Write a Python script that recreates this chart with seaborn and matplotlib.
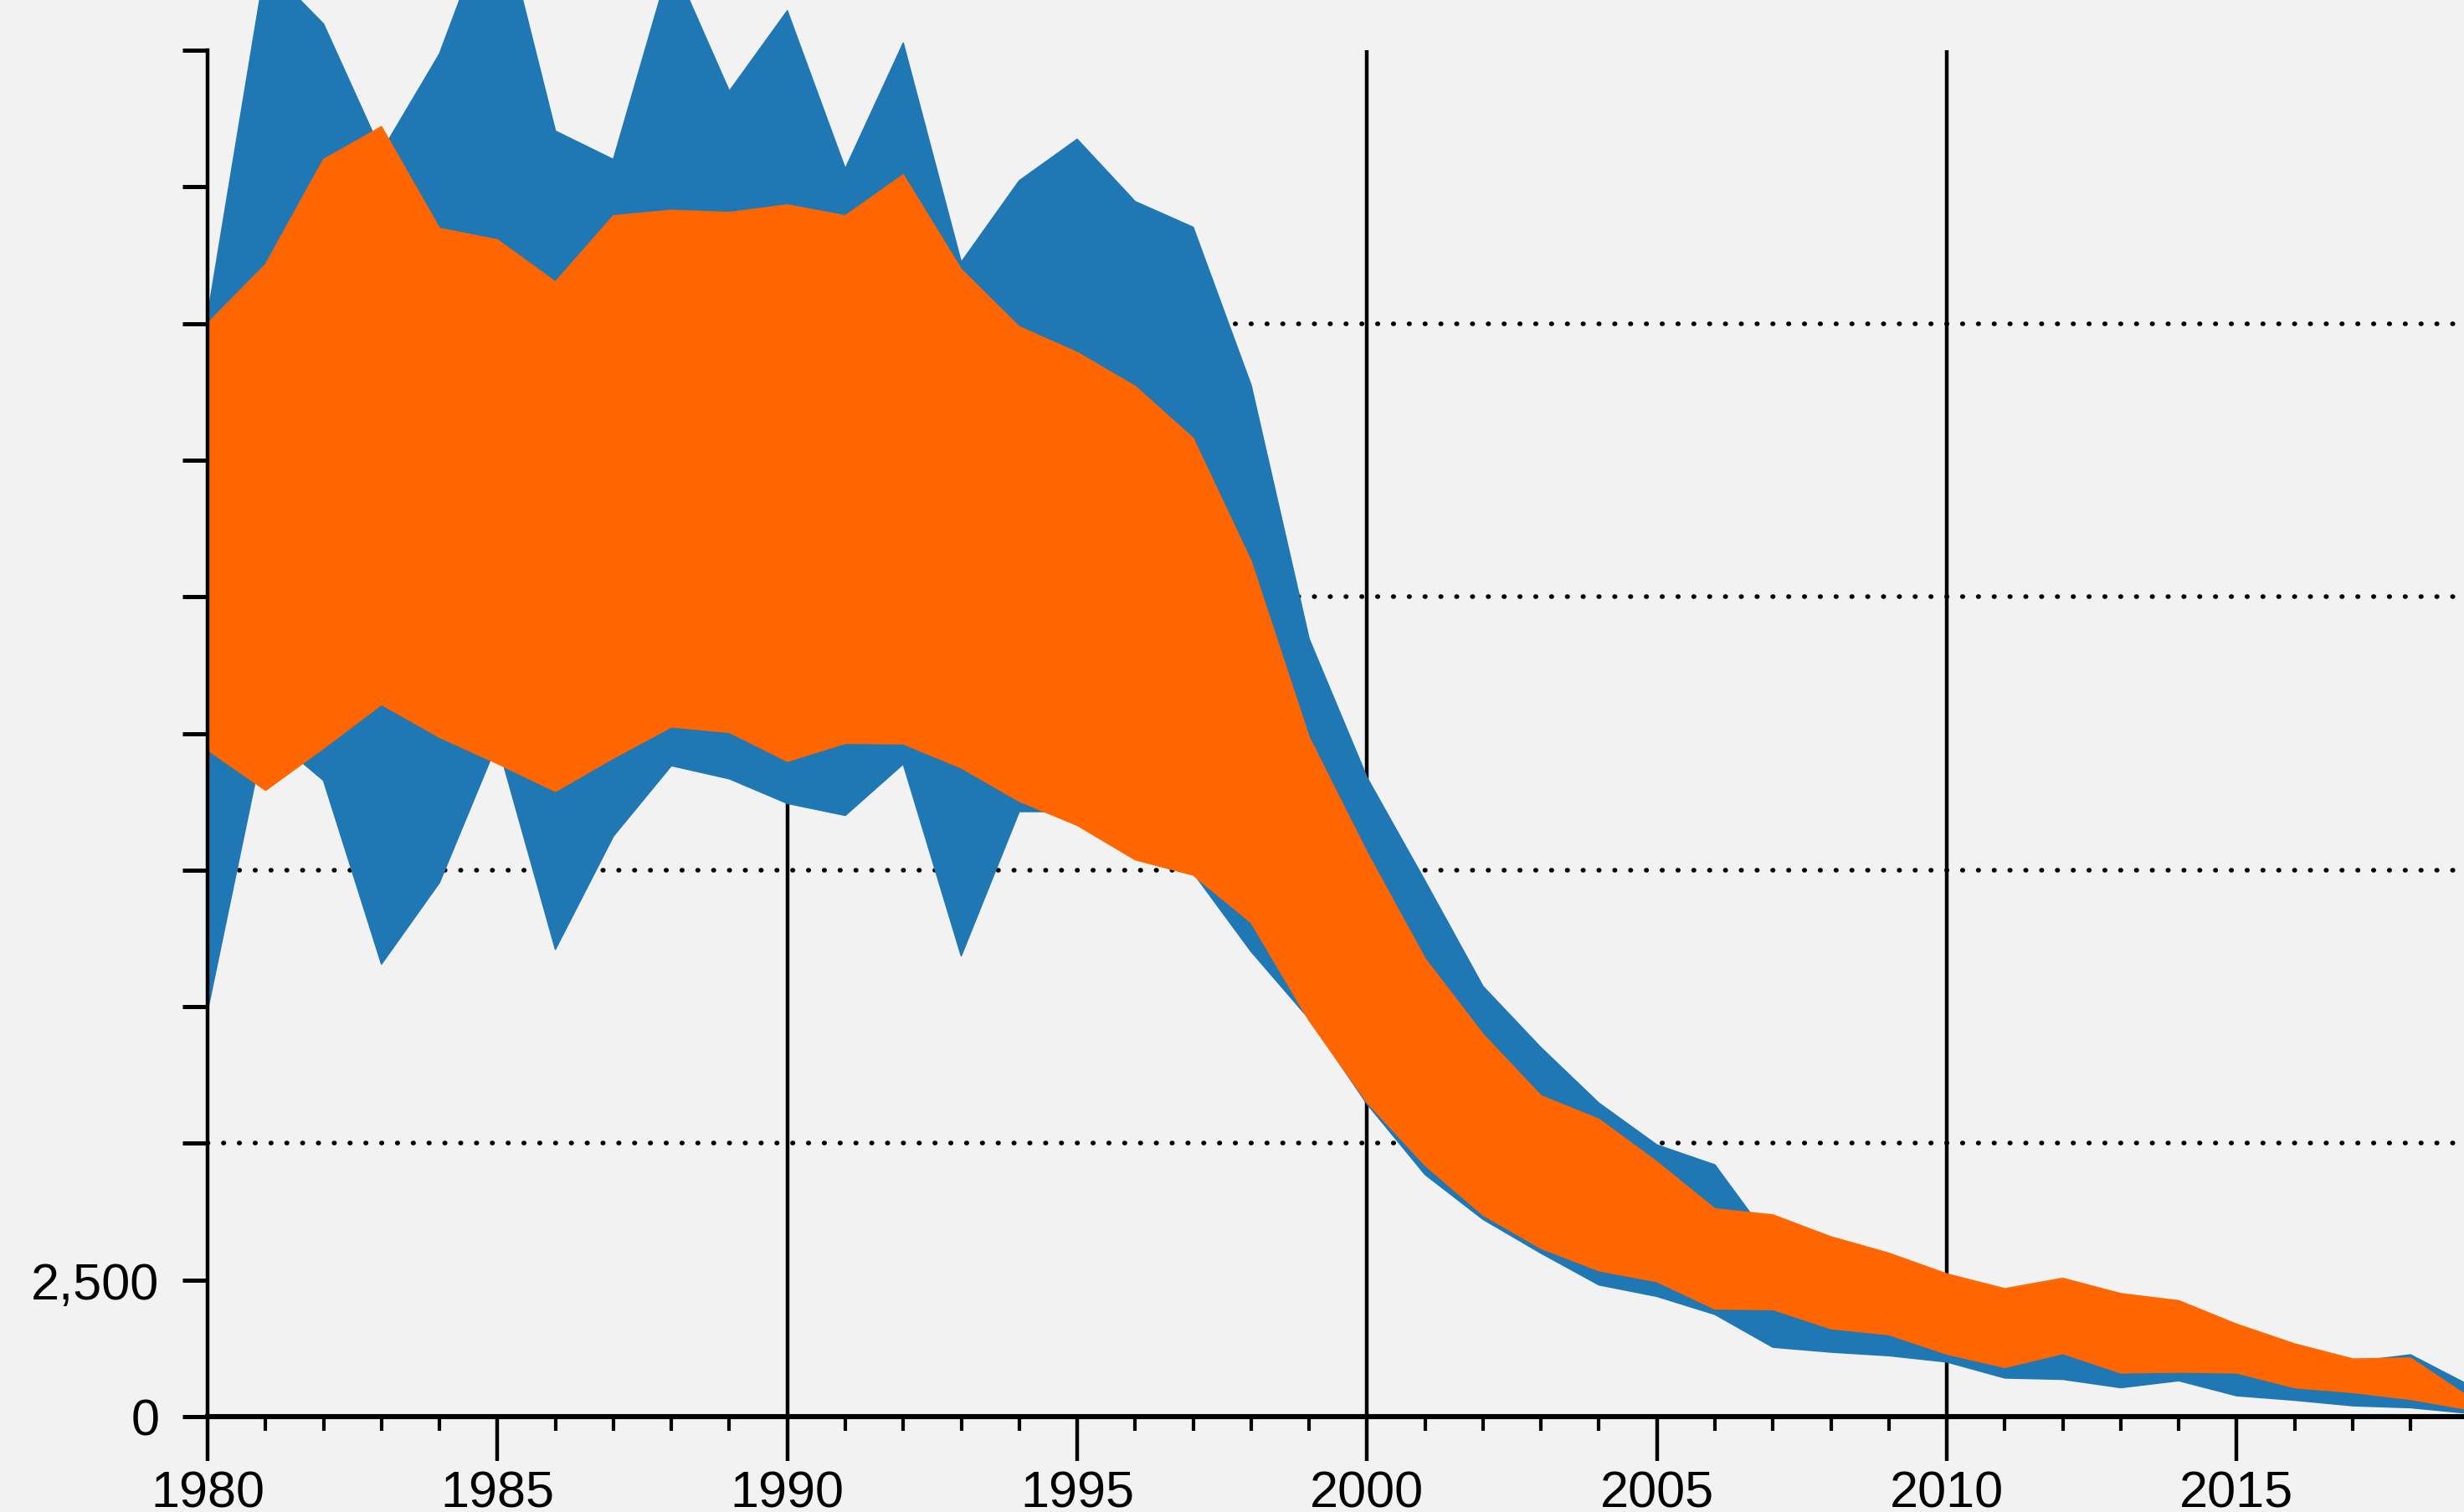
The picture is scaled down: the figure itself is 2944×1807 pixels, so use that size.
import numpy as np
import pandas as pd
import matplotlib
matplotlib.use("Agg")
import matplotlib.pyplot as plt
import seaborn as sns

# values
years = list(range(1980, 2020))

blue_upper = [20140, 26560, 25480, 23140, 24930, 27760, 23520, 23000, 26660, 24250,
              25720, 22830, 25130, 21120, 22610, 23370, 22230, 21760, 18870, 14230,
              11690, 9800, 7870, 6750, 5735, 4970, 4605, 3160, 2900, 2700,
              2400, 2150, 2250, 2000, 1950, 1600, 1250, 1000, 1130, 580]
blue_lower = [7430, 12530, 11640, 8280, 9770, 12330, 8550, 10620, 11910, 11670,
              11220, 11000, 11940, 8430, 11070, 11070, 10400, 9950, 8510, 7280,
              5720, 4430, 3610, 2990, 2410, 2200, 1870, 1270, 1180, 1115,
              1000, 707, 682, 530, 657, 382, 300, 199, 163, 61]
orange_upper = [20000, 21080, 23000, 23600, 21740, 21530, 20760, 21970, 22070, 22030,
                22170, 21970, 22720, 20990, 19940, 19470, 18850, 17900, 15650, 12430,
                10320, 8380, 6995, 5870, 5440, 4660, 3800, 3690, 3290, 2990,
                2610, 2340, 2530, 2250, 2120, 1690, 1330, 1055, 1070, 360]
orange_lower = [12200, 11460, 12230, 13030, 12430, 11950, 11440, 12050, 12620, 12520,
                11990, 12320, 12310, 11870, 11260, 10820, 10190, 9910, 9040, 7250,
                5750, 4600, 3690, 3080, 2670, 2470, 1970, 1960, 1610, 1500,
                1145, 900, 1155, 800, 815, 800, 530, 443, 316, 130]

y_ticks = list(range(0, 25001, 2500))
y_tick_labels = ['0', '2,500', '', '', '', '', '', '', '', '', '']
x_ticks = list(range(1980, 2020, 5))
x_tick_labels = [str(y) for y in x_ticks]

bands = pd.DataFrame({'year': years,
                      'blue_upper': blue_upper, 'blue_lower': blue_lower,
                      'orange_upper': orange_upper, 'orange_lower': orange_lower})

BG = '#f2f2f2'
BLUE = '#1f77b4'
ORANGE = '#ff6600'

sns.set_style('ticks', {'axes.facecolor': BG, 'figure.facecolor': BG})
plt.rcParams['font.family'] = ['Liberation Sans', 'DejaVu Sans']

fig = plt.figure(figsize=(14.72, 9.04), dpi=200, facecolor=BG)
ax = fig.add_axes([248 / 2944, 114 / 1808, (2949.5 - 248) / 2944, (1694 - 61) / 1808])
ax.set_facecolor(BG)

# grid: solid verticals every decade, dotted horizontals every 5000
for gx in range(1990, 2019, 10):
    ax.axvline(gx, color='black', lw=1.6, zorder=1)
for gy in range(5000, 20001, 5000):
    ax.axhline(gy, color='black', lw=2.0, linestyle=(0, (0.1, 3.3)),
               dash_capstyle='round', zorder=1)

# bands
for name, color, z in [('blue', BLUE, 2), ('orange', ORANGE, 3)]:
    ax.fill_between(bands['year'], bands[f'{name}_lower'], bands[f'{name}_upper'],
                    color=color, lw=0, clip_on=False, zorder=z)
    for edge in ['upper', 'lower']:
        sns.lineplot(data=bands, x='year', y=f'{name}_{edge}', ax=ax, color=color,
                     lw=0.6, clip_on=False, zorder=z)

ax.set_xlim(1980, 2019)
ax.set_ylim(0, 25000)
ax.set_xticks(x_ticks)
ax.set_xticklabels(x_tick_labels)
ax.set_xticks(years, minor=True)
ax.set_yticks(y_ticks)
ax.set_yticklabels(y_tick_labels)
ax.set_xlabel('')
ax.set_ylabel('')

ax.tick_params(axis='x', which='major', length=19, width=1.6, pad=4,
               labelsize=22, color='black', labelcolor='black')
ax.tick_params(axis='x', which='minor', length=6, width=1.5, color='black')
ax.tick_params(axis='y', which='major', length=10.8, width=1.8, pad=10,
               labelsize=22, color='black', labelcolor='black')

sns.despine(ax=ax, top=True, right=True)
ax.spines['left'].set_linewidth(1.6)
ax.spines['bottom'].set_linewidth(2.2)
ax.spines['left'].set_color('black')
ax.spines['bottom'].set_color('black')
ax.spines['left'].set_zorder(5)
ax.spines['bottom'].set_zorder(5)

fig.savefig('out.png', dpi=200, facecolor=BG)
